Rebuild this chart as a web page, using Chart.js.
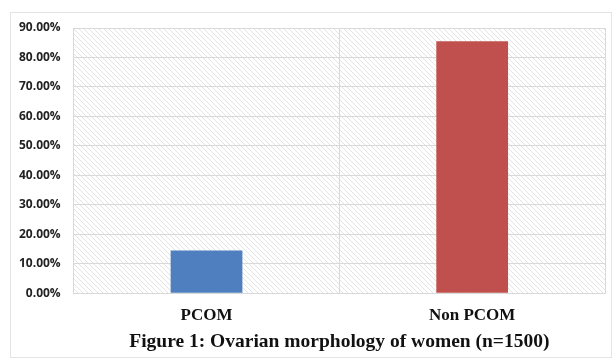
<!DOCTYPE html>
<html>
<head>
<meta charset="utf-8">
<script src="https://cdn.jsdelivr.net/npm/chart.js@4"></script>
<style>
    html, body { margin: 0; padding: 0; background: #ffffff; }
    #wrap { position: absolute; left: 10px; top: 12px; width: 602px; height: 346px; border: 1px solid #e4e4e4; box-sizing: border-box; }
    #chart { position: absolute; left: 0; top: 0; }
</style>
</head>
<body>
<div id="wrap"></div>
<canvas id="chart" width="615" height="360"></canvas>
<script>
const categories = ['PCOM', 'Non PCOM'];
const percentages = [14.5, 85.5];
const barColors = ['#4f7fbe', '#c0504d'];
const tickValues = [0, 10, 20, 30, 40, 50, 60, 70, 80, 90];

// diagonal hatch behind the plot area
const makeHatch = (ctx) => {
    const c = document.createElement('canvas');
    c.width = 5;
    c.height = 5;
    const p = c.getContext('2d');
    p.fillStyle = '#ffffff';
    p.fillRect(0, 0, 5, 5);
    p.strokeStyle = '#e3e3e3';
    p.lineWidth = 1;
    p.beginPath();
    p.moveTo(-1, -1);
    p.lineTo(6, 6);
    p.moveTo(-1, 4);
    p.lineTo(1, 6);
    p.moveTo(4, -1);
    p.lineTo(6, 1);
    p.stroke();
    return ctx.createPattern(c, 'repeat');
};

const hatchPlugin = {
    id: 'hatch',
    beforeDraw: (chart) => {
        const { ctx, chartArea } = chart;
        ctx.save();
        ctx.fillStyle = makeHatch(ctx);
        ctx.fillRect(chartArea.left, chartArea.top, chartArea.right - chartArea.left, chartArea.bottom - chartArea.top);
        ctx.restore();
    }
};

const serif = '"Liberation Serif", "Times New Roman", serif';

const ctx = document.getElementById('chart').getContext('2d');
new Chart(ctx, {
    type: 'bar',
    data: {
        labels: categories,
        datasets: [{
            data: percentages,
            backgroundColor: barColors,
            borderWidth: 0,
            categoryPercentage: 1,
            barPercentage: 0.27
        }]
    },
    options: {
        responsive: false,
        animation: false,
        layout: { padding: { left: 6, right: 10, top: 28, bottom: 6 } },
        scales: {
            x: {
                grid: { color: '#d9d9d9', offset: true, drawTicks: false },
                border: { display: true, color: '#d9d9d9' },
                ticks: {
                    color: '#111',
                    padding: 12,
                    font: { family: serif, size: 17, weight: 'bold' }
                },
                title: {
                    display: true,
                    text: 'Figure 1: Ovarian morphology of women (n=1500)',
                    color: '#111',
                    padding: { top: -7, bottom: 0 },
                    font: { family: serif, size: 19.5, weight: 'bold' }
                }
            },
            y: {
                min: 0,
                max: 90,
                afterBuildTicks: (axis) => { axis.ticks = tickValues.map(v => ({ value: v })); },
                grid: { color: '#d9d9d9', drawTicks: false },
                border: { display: false },
                ticks: {
                    color: '#222',
                    padding: 13,
                    callback: (v) => v.toFixed(2) + '%',
                    font: { family: '"Open Sans", "DejaVu Sans", sans-serif', size: 12, weight: 'bold' }
                }
            }
        },
        plugins: {
            legend: { display: false },
            tooltip: { enabled: false }
        }
    },
    plugins: [hatchPlugin]
});
</script>
</body>
</html>
